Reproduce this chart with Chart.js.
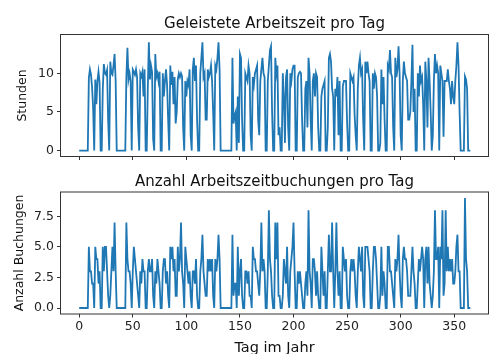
<!DOCTYPE html>
<html>
<head>
<meta charset="utf-8">
<script src="https://cdn.jsdelivr.net/npm/chart.js@4/dist/chart.umd.min.js"></script>
<style>
  html, body { margin: 0; padding: 0; background: #fff; overflow: hidden; }
  #wrap { position: relative; width: 491px; height: 354px; }
  #top { position: absolute; left: 0; top: 0; }
  #bottom { position: absolute; left: 0; top: 170px; }
</style>
</head>
<body>
<div id="wrap">
  <canvas id="top" width="491" height="170"></canvas>
  <canvas id="bottom" width="491" height="184"></canvas>
</div>
<script>
// Worked hours per day (one row = one week)
const hours = [
  0, 0, 0, 0, 0, 0, 0,
  0, 0, 9.4, 10.5, 9.8, 8.2, 5.5,
  0, 9.2, 6.0, 9.0, 10.2, 8.8, 0,
  0, 8.0, 11.2, 10.0, 9.8, 10.4, 4.0,
  0, 11.5, 10.0, 9.8, 11.0, 12.5, 9.0,
  0, 0, 0, 0, 0, 0, 0,
  0, 0, 9.5, 13.3, 9.2, 10.0, 9.0,
  0, 10.5, 10.2, 9.8, 10.5, 9.5, 3.0,
  0, 10.0, 9.6, 10.2, 7.0, 10.5, 0,
  0, 8.0, 14.0, 9.2, 11.0, 10.2, 1.5,
  0, 12.5, 9.5, 10.0, 9.0, 10.2, 0,
  0, 10.0, 7.0, 9.0, 10.5, 8.5, 4.0,
  0, 11.0, 8.5, 10.2, 6.0, 9.5, 3.5,
  5.0, 9.2, 10.0, 9.5, 10.0, 9.6, 3.0,
  0, 9.0, 7.0, 9.0, 8.5, 10.5, 2.0,
  0, 10.5, 12.0, 9.0, 11.0, 4.0, 0,
  0, 10.0, 12.0, 14.0, 9.5, 10.0, 4.0,
  4.0, 10.5, 9.5, 10.0, 11.0, 9.0, 5.0,
  0, 11.0, 10.5, 12.0, 14.0, 10.5, 0,
  0, 0, 0, 0, 0, 0, 0,
  0, 0, 0, 12.0, 3.5, 4.5, 5.0,
  0, 7.0, 1.0, 12.5, 12.0, 4.0, 0,
  0, 10.0, 9.5, 9.0, 11.0, 10.0, 2.0,
  0, 9.5, 8.5, 10.0, 10.5, 11.0, 4.0,
  2.0, 9.0, 10.5, 12.0, 10.0, 9.5, 0,
  0, 9.0, 11.0, 13.0, 13.5, 5.0, 0,
  0, 12.0, 10.0, 11.0, 2.0, 3.0, 0,
  0, 10.0, 7.0, 1.0, 9.5, 10.5, 3.0,
  0, 10.0, 9.0, 10.5, 11.0, 11.0, 0,
  0, 9.5, 10.0, 10.2, 10.0, 4.0, 0,
  0, 8.0, 9.0, 3.0, 12.0, 10.0, 4.0,
  0, 9.0, 10.0, 7.0, 10.0, 9.5, 3.0,
  0, 0, 7.0, 8.0, 8.5, 9.0, 0,
  0, 3.0, 12.0, 12.5, 11.5, 8.0, 7.0,
  0, 8.0, 7.0, 9.5, 2.0, 9.0, 0,
  0, 8.3, 9.0, 9.0, 9.0, 3.6, 0,
  0, 10.0, 9.5, 9.0, 9.5, 4.7, 2.0,
  0, 8.0, 11.0, 12.0, 10.0, 10.5, 4.0,
  0, 11.5, 10.0, 11.5, 10.0, 9.0, 0,
  0, 10.0, 8.0, 10.0, 9.5, 7.0, 0,
  0, 1.0, 10.5, 6.0, 9.5, 4.0, 0,
  0, 11.0, 10.5, 13.0, 10.0, 9.5, 3.0,
  0, 12.0, 9.5, 10.5, 13.5, 10.0, 2.0,
  0, 9.0, 11.5, 10.0, 9.5, 9.0, 4.0,
  4.0, 5.0, 9.0, 13.7, 5.0, 8.0, 0,
  0, 10.0, 7.0, 11.0, 9.0, 9.5, 6.0,
  0, 11.5, 9.0, 3.0, 12.0, 9.0, 5.0,
  0, 2.0, 9.0, 12.5, 10.0, 11.0, 10.0,
  0, 11.0, 10.0, 9.0, 1.8, 9.0, 9.0,
  9.0, 10.5, 9.0, 8.0, 6.0, 9.0, 7.0,
  6.0, 9.0, 11.0, 14.0, 11.0, 5.0, 0,
  0, 0, 0, 9.6, 9.2, 8.0, 0,
  0, 0
];

// Number of time bookings per day (same weeks)
const bookings = [
  0, 0, 0, 0, 0, 0, 0,
  0, 0, 5, 3, 3, 2, 2,
  0, 5, 4, 4, 2, 3, 0,
  0, 5, 3, 5, 5, 3, 1,
  0, 1, 3, 5, 3, 7, 3,
  0, 0, 0, 0, 0, 0, 0,
  0, 0, 7, 4, 3, 3, 2,
  0, 3, 5, 4, 3, 2, 1,
  0, 3, 2, 4, 3, 3, 0,
  0, 3, 4, 3, 3, 4, 1,
  0, 3, 2, 4, 3, 2, 0,
  0, 3, 4, 4, 2, 3, 1,
  0, 5, 4, 5, 3, 4, 1,
  1, 5, 3, 4, 7, 3, 2,
  0, 5, 4, 3, 2, 3, 1,
  0, 3, 3, 2, 4, 1, 0,
  0, 3, 4, 6, 3, 2, 1,
  1, 4, 3, 4, 3, 4, 1,
  0, 4, 3, 4, 6, 4, 0,
  0, 0, 0, 0, 0, 0, 0,
  0, 0, 0, 6, 1, 2, 2,
  0, 5, 1, 3, 4, 1, 0,
  0, 3, 3, 2, 3, 1, 1,
  0, 5, 4, 4, 3, 3, 2,
  1, 3, 7, 3, 4, 3, 0,
  0, 3, 8, 4, 3, 1, 0,
  0, 7, 4, 7, 1, 1, 0,
  0, 1, 4, 3, 2, 5, 1,
  0, 3, 4, 5, 7, 3, 0,
  0, 3, 2, 3, 2, 1, 0,
  0, 2, 3, 1, 8, 3, 2,
  0, 4, 4, 3, 1, 3, 1,
  0, 0, 5, 3, 1, 3, 0,
  0, 3, 6, 3, 3, 7, 3,
  0, 3, 7, 3, 1, 3, 0,
  0, 5, 4, 3, 4, 1, 0,
  0, 3, 4, 3, 4, 3, 1,
  0, 3, 5, 4, 3, 5, 1,
  0, 5, 5, 5, 4, 3, 0,
  0, 3, 5, 5, 4, 2, 0,
  0, 1, 5, 1, 3, 2, 0,
  0, 5, 5, 3, 3, 2, 1,
  0, 4, 3, 4, 6, 3, 1,
  0, 4, 5, 4, 4, 3, 1,
  1, 1, 3, 5, 3, 2, 0,
  0, 2, 4, 3, 4, 5, 4,
  0, 4, 5, 2, 5, 2, 1,
  0, 1, 3, 8, 4, 4, 5,
  0, 5, 4, 8, 1, 2, 8,
  3, 5, 3, 4, 3, 4, 2,
  2, 3, 5, 6, 3, 3, 0,
  0, 0, 0, 9, 4, 3, 0,
  0, 0
];

const xTicks = [0, 50, 100, 150, 200, 250, 300, 350];
const hourTicks = [0, 5, 10];
const bookingTicks = [0, 2.5, 5, 7.5];

const days = hours.map((_, i) => i);
const BLUE = '#1f77b4';
const INK = '#222';

Chart.defaults.font.family = "'DejaVu Sans', sans-serif";
Chart.defaults.color = INK;

// axes frame + centered title / xlabel, matplotlib style
const axesDeco = {
  id: 'axesDeco',
  afterDatasetsDraw(chart, args, opts) {
    const { ctx, chartArea: a } = chart;
    ctx.save();
    ctx.strokeStyle = '#333';
    ctx.lineWidth = 1;
    ctx.strokeRect(a.left - 0.5, a.top - 0.5, a.right - a.left + 1, a.bottom - a.top + 1);
    ctx.fillStyle = '#111';
    ctx.textAlign = 'center';
    ctx.textBaseline = 'alphabetic';
    const cx = (a.left + a.right) / 2;
    if (opts.title) {
      ctx.font = "15px 'DejaVu Sans'";
      ctx.fillText(opts.title, cx, opts.titleY);
    }
    if (opts.xlabel) {
      ctx.font = "14.5px 'DejaVu Sans'";
      ctx.fillText(opts.xlabel, cx, opts.xlabelY);
    }
    ctx.restore();
  }
};

function makeChart(id, values, cfg) {
  const ctx = document.getElementById(id).getContext('2d');
  return new Chart(ctx, {
    type: 'line',
    data: {
      datasets: [{
        data: days.map((d, i) => ({ x: d, y: values[i] })),
        borderColor: BLUE,
        borderWidth: 1.8,
        pointRadius: 0,
        tension: 0,
        fill: false
      }]
    },
    options: {
      responsive: false,
      animation: false,
      events: [],
      layout: { padding: { left: 0, right: 3, top: cfg.padTop, bottom: 0 } },
      plugins: {
        legend: { display: false },
        tooltip: { enabled: false },
        axesDeco: { title: cfg.title, titleY: cfg.titleY, xlabel: cfg.xlabel, xlabelY: cfg.xlabelY }
      },
      scales: {
        x: {
          type: 'linear',
          min: -17,
          max: 381.5,
          afterBuildTicks: s => { s.ticks = xTicks.map(v => ({ value: v })); },
          afterFit: s => { s.height = cfg.xHeight; },
          grid: { display: true, drawOnChartArea: false, drawTicks: true, tickLength: 4, color: '#333' },
          border: { display: false },
          ticks: { display: cfg.xLabels, padding: 2, font: { size: 12.5 }, color: INK, maxRotation: 0 }
        },
        y: {
          min: cfg.yMin,
          max: cfg.yMax,
          afterBuildTicks: s => { s.ticks = cfg.yTicks.map(v => ({ value: v })); },
          afterFit: s => { s.width = 61; },
          grid: { display: true, drawOnChartArea: false, drawTicks: true, tickLength: 4, color: '#333' },
          border: { display: false },
          ticks: { padding: 3, font: { size: 12.5 }, color: INK, callback: cfg.yFmt },
          title: { display: true, text: cfg.ylabel, font: { size: 12.5 }, color: '#111', padding: { top: cfg.yTitlePad, bottom: 0 } }
        }
      }
    },
    plugins: [axesDeco]
  });
}

makeChart('top', hours, {
  title: 'Geleistete Arbeitszeit pro Tag',
  titleY: 28,
  padTop: 35,
  xHeight: 14,
  xLabels: false,
  yMin: -0.7,
  yMax: 14.95,
  yTicks: hourTicks,
  yFmt: v => String(v),
  ylabel: 'Stunden',
  yTitlePad: 15.5
});

makeChart('bottom', bookings, {
  title: 'Anzahl Arbeitszeitbuchungen pro Tag',
  titleY: 15.5,
  xlabel: 'Tag im Jahr',
  xlabelY: 182,
  padTop: 22.5,
  xHeight: 40.5,
  xLabels: true,
  yMin: -0.45,
  yMax: 9.45,
  yTicks: bookingTicks,
  yFmt: v => v.toFixed(1),
  ylabel: 'Anzahl Buchungen',
  yTitlePad: 12.5
});
</script>
</body>
</html>
